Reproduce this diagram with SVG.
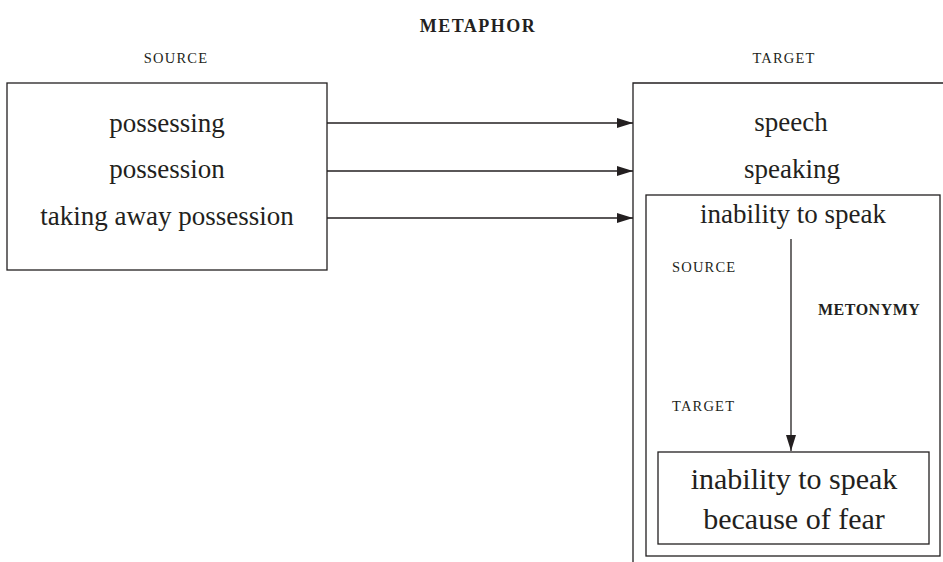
<svg xmlns="http://www.w3.org/2000/svg" width="943" height="562" viewBox="0 0 943 562">
<style>
.box{fill:none;stroke:#231f20;stroke-width:1.3}
.t{font-family:"Liberation Serif",serif;font-size:27px;fill:#231f20;text-anchor:middle}
.sc{font-family:"Liberation Serif",serif;font-size:14.5px;letter-spacing:1.2px;fill:#231f20}
.b{font-family:"Liberation Serif",serif;font-size:16px;font-weight:bold;letter-spacing:0.5px;fill:#231f20}
.c{stroke:#231f20;stroke-width:1.3;fill:none}
</style>
<defs>
<marker id="ah" markerWidth="16" markerHeight="10" refX="16" refY="5" orient="auto" markerUnits="userSpaceOnUse">
<path d="M0,0 L16,5 L0,10 Z" fill="#231f20"/>
</marker>
</defs>
<text class="b" x="478" y="32" text-anchor="middle" style="font-size:18px;letter-spacing:1.5px">METAPHOR</text>
<text class="sc" x="176" y="63" text-anchor="middle">SOURCE</text>
<text class="sc" x="784" y="63" text-anchor="middle">TARGET</text>
<g id="source">
<rect class="box" x="7" y="83" width="320" height="187"/>
<text class="t" x="167" y="132">possessing</text>
<text class="t" x="167" y="178">possession</text>
<text class="t" x="167" y="225">taking away possession</text>
</g>
<g id="target">
<path class="box" d="M633,562 L633,83 L943,83"/>
<text class="t" x="791" y="131">speech</text>
<text class="t" x="792" y="178">speaking</text>
</g>
<g id="inability">
<rect class="box" x="646" y="195" width="294" height="361"/>
<text class="t" x="793" y="223">inability to speak</text>
<text class="sc" x="672" y="272">SOURCE</text>
<text class="b" x="818" y="315">METONYMY</text>
<text class="sc" x="672" y="411">TARGET</text>
</g>
<g id="fear">
<rect class="box" x="658" y="452" width="271" height="92"/>
<text class="t" x="794" y="489" style="font-size:30px">inability to speak</text>
<text class="t" x="794" y="529" style="font-size:30px">because of fear</text>
</g>
<g id="connectors">
<line class="c" x1="327" y1="123" x2="633" y2="123" marker-end="url(#ah)"/>
<line class="c" x1="327" y1="171" x2="633" y2="171" marker-end="url(#ah)"/>
<line class="c" x1="327" y1="218" x2="633" y2="218" marker-end="url(#ah)"/>
<line class="c" x1="791" y1="239" x2="791" y2="451" marker-end="url(#ah)"/>
</g>
</svg>
